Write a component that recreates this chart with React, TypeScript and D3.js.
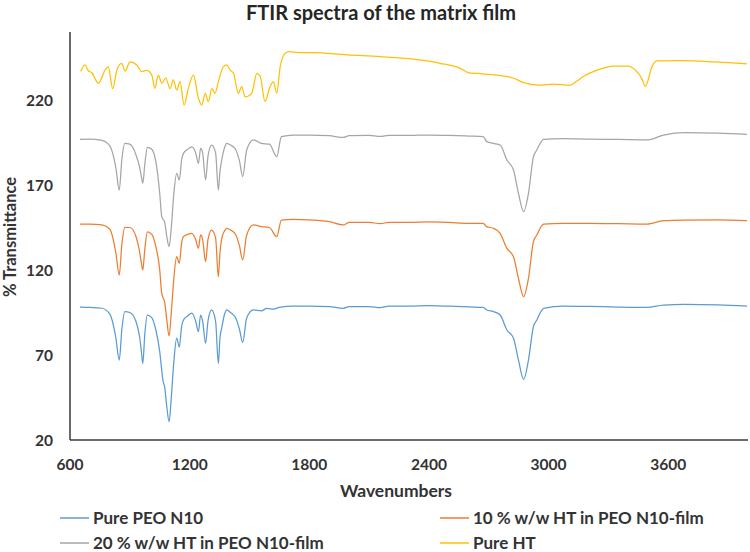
import React from "react";
import * as d3 from "d3";

const xTicks = [600, 1200, 1800, 2400, 3000, 3600];
const yTicks = [20, 70, 120, 170, 220];

const seriesNames = [
  "Pure PEO N10",
  "10 % w/w HT in PEO N10-film",
  "20 % w/w HT in PEO N10-film",
  "Pure HT",
];
const seriesColors = ["#5b9bd5", "#ed7d31", "#a5a5a5", "#ffc000"];

const peoWn = [650, 700, 760, 800, 830, 847, 860, 875, 900, 930, 950, 958, 965, 975, 988, 1010, 1030, 1050, 1060, 1066, 1075, 1085, 1097, 1108, 1120, 1135, 1148, 1160, 1169, 1190, 1211, 1230, 1244, 1255, 1265, 1280, 1292, 1310, 1330, 1344, 1352, 1361, 1375, 1386, 1405, 1430, 1450, 1466, 1486, 1520, 1560, 1587, 1620, 1650, 1719, 1800, 1900, 1970, 2000, 2100, 2155, 2200, 2300, 2400, 2500, 2600, 2672, 2690, 2724, 2757, 2791, 2824, 2849, 2875, 2899, 2924, 2941, 2975, 3075, 3200, 3350, 3493, 3577, 3680, 3850, 3995];
const peoT = [98.2, 98, 97.5, 94, 80, 67, 85, 95.5, 95, 90, 80, 72, 65, 82, 93.5, 92, 85, 72, 61, 55, 51, 40, 30.8, 45, 65, 80, 74.7, 87, 90.6, 93, 94.7, 90, 83.7, 93.5, 90, 76.9, 90, 96.5, 90, 65, 80, 86, 94, 96.5, 95, 92, 85, 77.3, 91.8, 96.5, 96, 97.4, 97, 98, 98.8, 98.8, 98.5, 97.5, 98.5, 98.5, 97.8, 98.7, 98.7, 99, 98.7, 98.3, 98, 96.5, 95.5, 93.5, 84.7, 79.8, 67, 55.7, 67, 86.7, 90.6, 97.4, 98.8, 98.6, 98.2, 98, 99.4, 99.8, 99.5, 98.8];

const ht10Wn = [650, 700, 760, 800, 830, 847, 860, 875, 900, 930, 950, 958, 965, 975, 988, 1010, 1030, 1050, 1060, 1066, 1075, 1085, 1097, 1108, 1120, 1135, 1148, 1160, 1169, 1190, 1211, 1230, 1244, 1255, 1265, 1280, 1292, 1310, 1330, 1344, 1352, 1361, 1375, 1386, 1405, 1430, 1450, 1466, 1486, 1520, 1560, 1600, 1637, 1660, 1720, 1800, 1900, 1970, 2000, 2100, 2155, 2200, 2300, 2400, 2500, 2600, 2672, 2690, 2724, 2757, 2791, 2824, 2849, 2875, 2899, 2924, 2941, 2975, 3075, 3200, 3350, 3493, 3577, 3680, 3850, 3995];
const ht10T = [147, 147, 146.5, 144, 130, 117, 135, 145.1, 145, 140, 130, 124, 120, 132, 142.5, 141, 134, 120, 106.3, 104, 101, 91, 81.2, 95, 114, 127.8, 123.9, 136, 139.6, 141, 141.6, 138, 132.8, 140.6, 138, 124.9, 138, 143.5, 139, 116, 130, 138.6, 143, 144.5, 143.5, 141, 134, 125.9, 140.6, 146.5, 145.5, 145, 139.6, 149.4, 149.8, 149.5, 148.5, 146.5, 148, 148, 147.3, 148, 148, 148.3, 148, 147.5, 147.5, 145.5, 144.5, 141.6, 132.7, 127.8, 115, 104.3, 115, 136.7, 140.6, 147, 147.5, 147.5, 147.3, 147, 149, 149.4, 149.5, 149];

const ht20Wn = [650, 700, 760, 800, 830, 847, 860, 875, 900, 930, 950, 958, 965, 975, 988, 1010, 1030, 1050, 1060, 1066, 1075, 1085, 1097, 1108, 1120, 1135, 1148, 1160, 1169, 1190, 1211, 1230, 1244, 1255, 1265, 1280, 1292, 1310, 1330, 1344, 1352, 1361, 1375, 1386, 1405, 1430, 1450, 1466, 1486, 1520, 1560, 1600, 1637, 1660, 1720, 1800, 1900, 1970, 2000, 2100, 2155, 2200, 2300, 2400, 2500, 2600, 2672, 2690, 2724, 2757, 2791, 2824, 2849, 2875, 2899, 2924, 2941, 2975, 3075, 3200, 3350, 3493, 3577, 3680, 3850, 3995];
const ht20T = [196.9, 197, 196.3, 193, 180, 167, 185, 194.5, 194, 188, 180, 175, 171, 182, 192.2, 191, 184, 165, 151.4, 150, 148, 140, 133.7, 145, 164, 176.9, 173, 185, 188.6, 191, 192.5, 189, 182.7, 191.6, 189, 173, 187, 193.5, 189, 167, 178, 184.7, 192, 194.5, 193.5, 191, 184, 175, 190.6, 196.5, 194.5, 194, 186.7, 198.4, 199.4, 199.4, 199, 198, 199, 199.2, 198.6, 199.2, 199.2, 199.4, 199.2, 198.8, 198.5, 195.5, 194.5, 193.5, 184.7, 178.8, 165, 154.3, 165, 186.7, 190.6, 196.9, 197.3, 197, 196.8, 196.5, 199.4, 200.8, 200.5, 199.8];

const htWn = [654, 675, 690, 710, 742, 776, 792, 814, 835, 859, 876, 901, 935, 960, 985, 1010, 1026, 1043, 1060, 1080, 1102, 1118, 1135, 1152, 1172, 1193, 1219, 1244, 1261, 1278, 1294, 1311, 1327, 1344, 1369, 1386, 1403, 1420, 1444, 1461, 1478, 1511, 1537, 1554, 1578, 1603, 1620, 1637, 1654, 1679, 1700, 1754, 1820, 1988, 2155, 2323, 2456, 2557, 2600, 2624, 2660, 2700, 2741, 2824, 2875, 2950, 3025, 3109, 3140, 3176, 3243, 3326, 3393, 3443, 3470, 3485, 3500, 3510, 3543, 3661, 3828, 3995];
const htT = [236.7, 240.6, 237.5, 236, 229.8, 237.6, 239.6, 226.7, 237.6, 241.6, 237, 242.5, 240.6, 236.7, 237.5, 234.7, 226.8, 234.7, 229.8, 232.8, 226.7, 231.8, 225.9, 230.8, 217, 226.7, 234.7, 221, 217, 223.9, 219, 226.7, 223.9, 230.8, 239.6, 240.6, 237.6, 235.7, 223.9, 227.8, 221.8, 223.9, 235.7, 233.8, 219, 227.8, 230.8, 223.9, 239.6, 247.5, 248.4, 247.8, 247.8, 246.5, 245.5, 244, 241.6, 238.6, 236, 235.7, 235.5, 235, 234.7, 232.8, 230.2, 228.8, 229.4, 228.8, 231, 234, 237.6, 240, 240, 236.7, 232, 228, 232, 236.7, 243, 243.1, 242.4, 241.2];

const FONT = "Lato, 'Open Sans', sans-serif";

export default function App() {
  const W = 750;
  const H = 552;
  const x = d3.scaleLinear().domain([600, 4000]).range([70, 748]);
  const y = d3.scaleLinear().domain([20, 260]).range([440, 32]);

  const series = [
    { wn: peoWn, t: peoT },
    { wn: ht10Wn, t: ht10T },
    { wn: ht20Wn, t: ht20T },
    { wn: htWn, t: htT },
  ];

  const line = d3
    .line<[number, number]>()
    .x((d) => x(d[0]))
    .y((d) => y(d[1]))
    .curve(d3.curveMonotoneX);

  const legendPos = [
    { lx: 60, ly: 518 },
    { lx: 440, ly: 518 },
    { lx: 60, ly: 543 },
    { lx: 440, ly: 543 },
  ];

  return (
    <svg
      width={W}
      height={H}
      style={{ position: "absolute", left: 0, top: 0, background: "#fff" }}
      fontFamily={FONT}
    >
      <rect x={0} y={0} width={W} height={H} fill="#fff" />
      <text x={381} y={20} textAnchor="middle" fontSize={20} fontWeight="bold" fill="#262626">
        FTIR spectra of the matrix film
      </text>

      {series.map((s, i) => {
        const pts: [number, number][] = s.wn.map((w, j) => [w, s.t[j]]);
        return (
          <path
            key={i}
            d={line(pts) || ""}
            fill="none"
            stroke={seriesColors[i]}
            strokeWidth={1.25}
            strokeLinejoin="round"
          />
        );
      })}

      <line x1={x(600)} x2={x(600)} y1={y(260)} y2={y(20)} stroke="#3a3a3a" strokeWidth={1.5} />
      <line x1={x(600)} x2={x(4000)} y1={y(20)} y2={y(20)} stroke="#3a3a3a" strokeWidth={1.5} />

      {yTicks.map((t) => (
        <text key={t} x={53} y={y(t) + 5.5} textAnchor="end" fontSize={15.5} fontWeight="bold" fill="#333">
          {t}
        </text>
      ))}
      {xTicks.map((t) => (
        <text key={t} x={x(t)} y={470} textAnchor="middle" fontSize={15.5} fontWeight="bold" fill="#333">
          {t}
        </text>
      ))}

      <text
        transform={`translate(16,237) rotate(-90)`}
        textAnchor="middle"
        fontSize={16.5}
        fill="#333"
        fontWeight="bold"
      >
        % Transmittance
      </text>
      <text x={396} y={497} textAnchor="middle" fontSize={17.5} fill="#333" fontWeight="bold">
        Wavenumbers
      </text>

      {seriesNames.map((n, i) => (
        <g key={n}>
          <line
            x1={legendPos[i].lx}
            x2={legendPos[i].lx + 29}
            y1={legendPos[i].ly}
            y2={legendPos[i].ly}
            stroke={seriesColors[i]}
            strokeWidth={1.5}
          />
          <text x={legendPos[i].lx + 33} y={legendPos[i].ly + 6} fontSize={17} fontWeight="bold" fill="#333">
            {n}
          </text>
        </g>
      ))}
    </svg>
  );
}
